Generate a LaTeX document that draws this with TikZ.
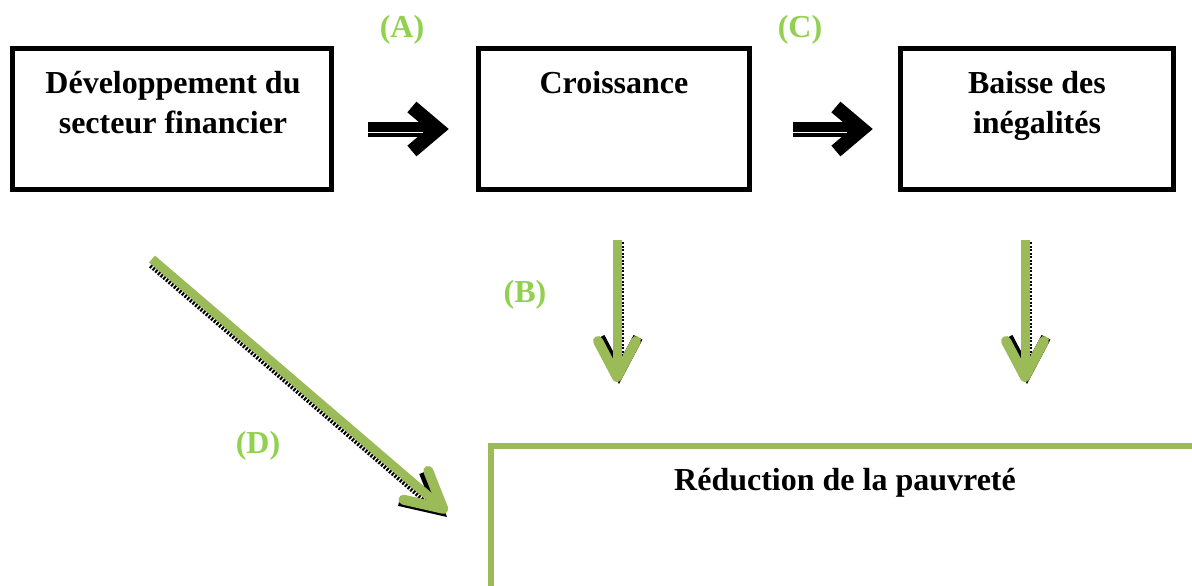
\documentclass[tikz,border=0pt]{standalone}
\usepackage{fontspec}
\setmainfont{Liberation Serif}
\usetikzlibrary{arrows.meta,calc}
\definecolor{arrgreen}{HTML}{9BBB59}
\definecolor{labgreen}{HTML}{92D050}
\begin{document}
\begin{tikzpicture}[x=1pt,y=-1pt,
  box/.style={draw=black,line width=5.5pt,rectangle,inner sep=0pt},
  txt/.style={font=\fontsize{32}{40}\selectfont\bfseries,align=center,inner sep=0pt,anchor=base},
  lab/.style={font=\fontsize{32}{40}\selectfont\bfseries,text=labgreen,inner sep=0pt},
  blackarrow/.style={line width=15pt,-{Straight Barb[length=26pt,width=44pt,line width=14pt]}},
  greenarrow/.style={line width=9pt,draw=arrgreen,-{Straight Barb[length=36pt,width=38pt,line width=10pt,round]}},
  shadowarrow/.style={line width=9pt,draw=black,dash pattern=on 2pt off 1.5pt,-{Straight Barb[length=36pt,width=38pt,line width=10pt]}}
]
\useasboundingbox (0,0) rectangle (1192,586);
% boxes
\node[box,minimum width=319pt,minimum height=141pt] (b1) at (172,119) {};
\node[box,minimum width=271pt,minimum height=141pt] (b2) at (614,119) {};
\node[box,minimum width=273pt,minimum height=141pt] (b3) at (1037,119) {};
\node[txt] (t1) at (173,133) {Développement du\\secteur financier};
\node[txt] (t2) at (614,93) {Croissance};
\node[txt] (t3) at (1037,133) {Baisse des\\inégalités};
% bottom box (clipped by page)
\coordinate (r0) at (491,600);
\coordinate (r1) at (491,446);
\coordinate (r2) at (1210,446);
\draw[arrgreen,line width=6pt] (r0) -- (r1) -- (r2);
\node[txt] (t4) at (845,490) {Réduction de la pauvreté};
% labels
\node[lab] (la) at (402,30) {(A)};
\node[lab] (lc) at (800,30) {(C)};
\node[lab] (lb) at (525,295) {(B)};
\node[lab] (ld) at (258,446) {(D)};
% black arrows
\coordinate (a1s) at ($(b1.east)+(34,10)$);
\coordinate (a1e) at ($(b2.west)+(-27,10)$);
\coordinate (a2s) at ($(b2.east)+(41,10)$);
\coordinate (a2e) at ($(b3.west)+(-25,10)$);
\draw[blackarrow] (a1s) -- (a1e);
\draw[white,line width=1pt] ($(a1s)+(0,3)$) -- ($(a1e)+(-26,3)$);
\draw[blackarrow] (a2s) -- (a2e);
\draw[white,line width=1pt] ($(a2s)+(0,3)$) -- ($(a2e)+(-26,3)$);
% green arrows
\coordinate (gbs) at (617,240);
\coordinate (gbe) at (617,382);
\coordinate (gcs) at (1025,240);
\coordinate (gce) at (1025,382);
\coordinate (gds) at (152,259);
\coordinate (gde) at (447,512);
\draw[shadowarrow] ($(gbs)+(2,2)$) -- ($(gbe)+(2,2)$);
\draw[greenarrow] (gbs) -- (gbe);
\draw[shadowarrow] ($(gcs)+(2,2)$) -- ($(gce)+(2,2)$);
\draw[greenarrow] (gcs) -- (gce);
\draw[shadowarrow] ($(gds)+(0,5)$) -- ($(gde)+(0,5)$);
\draw[greenarrow] (gds) -- (gde);
\end{tikzpicture}
\end{document}
